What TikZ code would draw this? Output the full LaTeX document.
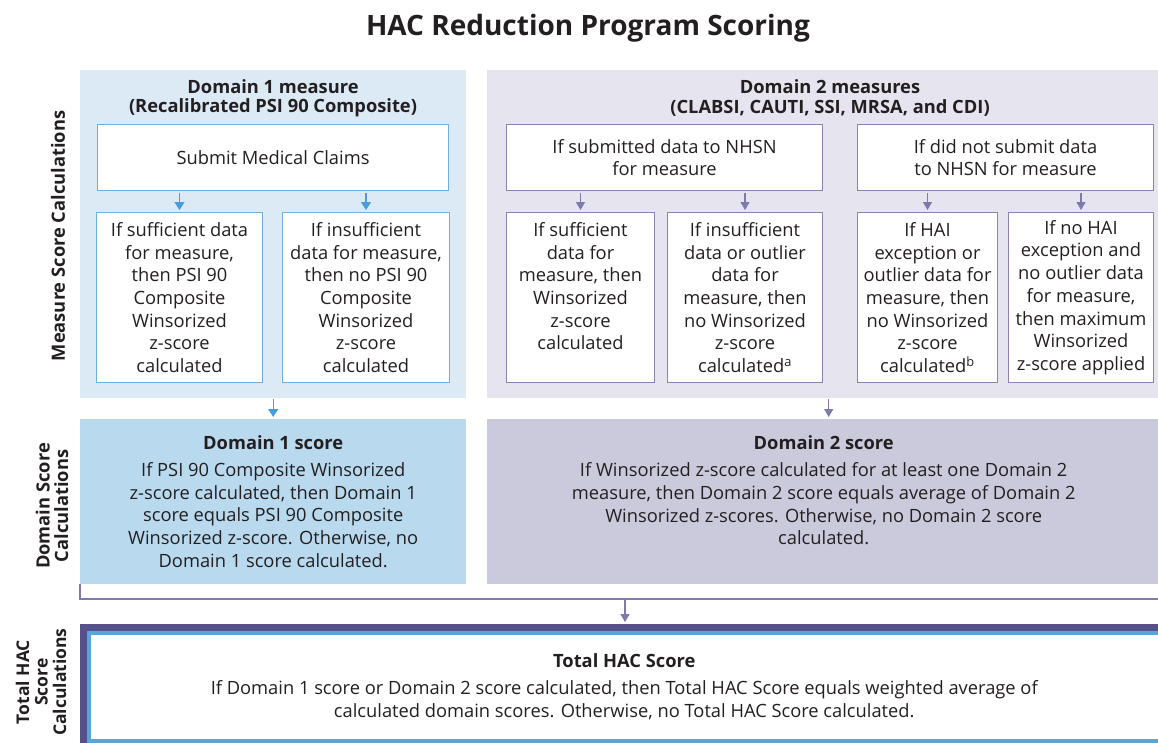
\documentclass[tikz,border=0pt]{standalone}
\usepackage{fontspec}
\setmainfont{Open Sans}
\usepackage{tikz}
\usetikzlibrary{arrows.meta}

\definecolor{inkcol}{RGB}{35,31,32}
\definecolor{d1light}{RGB}{220,234,246}
\definecolor{d1mid}{RGB}{185,217,238}
\definecolor{d1line}{RGB}{111,176,226}
\definecolor{d1arrow}{RGB}{74,157,218}
\definecolor{d2light}{RGB}{229,228,239}
\definecolor{d2mid}{RGB}{203,202,220}
\definecolor{d2line}{RGB}{135,131,180}
\definecolor{d2arrow}{RGB}{126,122,170}
\definecolor{hacdark}{RGB}{87,81,137}
\definecolor{hacblue}{RGB}{88,164,221}

\tikzset{
  panel/.style={anchor=north west, inner sep=0pt, minimum height=328},
  head/.style={font=\fontsize{18.3}{19.5}\selectfont\bfseries, align=center},
  sidelabel/.style={font=\fontsize{18.3}{18.5}\selectfont\bfseries, align=center, rotate=90},
  d1box/.style={draw=d1line, fill=white, line width=1pt, anchor=north west, inner sep=0pt, align=center},
  d2box/.style={draw=d2line, fill=white, line width=1pt, anchor=north west, inner sep=0pt, align=center},
  d1arr/.style={draw=d1arrow, line width=1.4pt, -{Triangle[width=10pt,length=8pt]}, shorten <=2pt, shorten >=2pt},
  d2arr/.style={draw=d2arrow, line width=1.2pt, -{Triangle[width=9pt,length=8pt]}, shorten <=2pt, shorten >=2pt}
}

\begin{document}
\begin{tikzpicture}[x=1pt, y=-1pt, font=\fontsize{18.3}{22.7}\selectfont, text=inkcol]
\useasboundingbox (0,0) rectangle (1158,742);
\clip (0,0) rectangle (1158,742);

\node[font=\fontsize{28}{32}\selectfont\bfseries] (title) at (588,28) {HAC Reduction Program Scoring};

\node[sidelabel] (lblmeasure) at (58,236) {Measure Score Calculations};
\node[sidelabel] (lbldomain) at (52,506) {Domain Score\\Calculations};
\node[sidelabel, font=\fontsize{17.5}{18.5}\selectfont\bfseries] (lbltotal) at (41,682) {Total HAC\\Score\\Calculations};

\node[panel, fill=d1light, minimum width=386] (d1panel) at (80,70) {};
\node[panel, fill=d2light, minimum width=683] (d2panel) at (487,70) {};

\node[head] (d1head) at (273,98) {Domain 1 measure\\(Recalibrated PSI 90 Composite)};
\node[head] (d2head) at (830,98) {Domain 2 measures\\(CLABSI, CAUTI, SSI, MRSA, and CDI)};

\node[d1box, minimum width=351, minimum height=66] (d1claims) at (97,124) {Submit Medical Claims};
\node[d1box, minimum width=166, minimum height=170] (d1suff) at (96,212) {If sufficient data\\for measure,\\then PSI 90\\Composite\\Winsorized\\z-score\\calculated};
\node[d1box, minimum width=167, minimum height=170] (d1insuff) at (282,212) {If insufficient\\data for measure,\\then no PSI 90\\Composite\\Winsorized\\z-score\\calculated};

\node[d2box, minimum width=316, minimum height=66] (d2nhsn) at (506,124) {If submitted data to NHSN\\for measure};
\node[d2box, minimum width=296, minimum height=66] (d2nonhsn) at (857,124) {If did not submit data\\to NHSN for measure};
\node[d2box, minimum width=148, minimum height=170] (d2suff) at (506,212) {If sufficient\\data for\\measure, then\\Winsorized\\z-score\\calculated\\~};
\node[d2box, minimum width=155, minimum height=170] (d2outl) at (667,212) {If insufficient\\data or outlier\\data for\\measure, then\\no Winsorized\\z-score\\calculated\textsuperscript{a}};
\node[d2box, minimum width=140, minimum height=170] (d2hai) at (857,212) {If HAI\\exception or\\outlier data for\\measure, then\\no Winsorized\\z-score\\calculated\textsuperscript{b}};
\node[d2box, minimum width=145, minimum height=170] (d2max) at (1008,212) {If no HAI\\exception and\\no outlier data\\for measure,\\then maximum\\Winsorized\\z-score applied};

\draw[d1arr] (d1suff.north |- d1claims.south) -- (d1suff.north);
\draw[d1arr] (d1insuff.north |- d1claims.south) -- (d1insuff.north);
\draw[d2arr] (d2suff.north |- d2nhsn.south) -- (d2suff.north);
\draw[d2arr] (d2outl.north |- d2nhsn.south) -- (d2outl.north);
\draw[d2arr] (d2hai.north |- d2nonhsn.south) -- (d2hai.north);
\draw[d2arr] (d2max.north |- d2nonhsn.south) -- (d2max.north);

\node[panel, fill=d1mid, minimum width=386, minimum height=165, align=center] (d1score) at (80,419) {\textbf{Domain 1 score}\\[4pt]If PSI 90 Composite Winsorized\\z-score calculated, then Domain 1\\score equals PSI 90 Composite\\Winsorized z-score. Otherwise, no\\Domain 1 score calculated.};
\node[panel, fill=d2mid, minimum width=673, minimum height=165, align=center] (d2score) at (487,419) {\textbf{Domain 2 score}\\[4pt]If Winsorized z-score calculated for at least one Domain 2\\measure, then Domain 2 score equals average of Domain 2\\Winsorized z-scores. Otherwise, no Domain 2 score\\calculated.\\~};

\draw[d1arr, shorten <=1pt] (d1panel.south) -- (d1score.north);
\draw[d2arr, shorten <=1pt] (d2panel.south) -- (d2panel.south |- d2score.north);

\coordinate (join) at (625,599);
\draw[d2arrow, line width=1.8pt] (d1score.south west) |- (1170,599);

\node[panel, fill=hacdark, minimum width=1100, minimum height=130] (totalframe) at (80,624) {};
\node[draw=hacblue, fill=white, line width=3.5pt, anchor=north west, inner sep=0pt, minimum width=1071, minimum height=108, align=center] (total) at (87,631) {\textbf{Total HAC Score}\\[4pt]If Domain 1 score or Domain 2 score calculated, then Total HAC Score equals weighted average of\\calculated domain scores. Otherwise, no Total HAC Score calculated.};

\draw[d2arr, shorten <=1pt] (join) -- (join |- totalframe.north);
\end{tikzpicture}
\end{document}
